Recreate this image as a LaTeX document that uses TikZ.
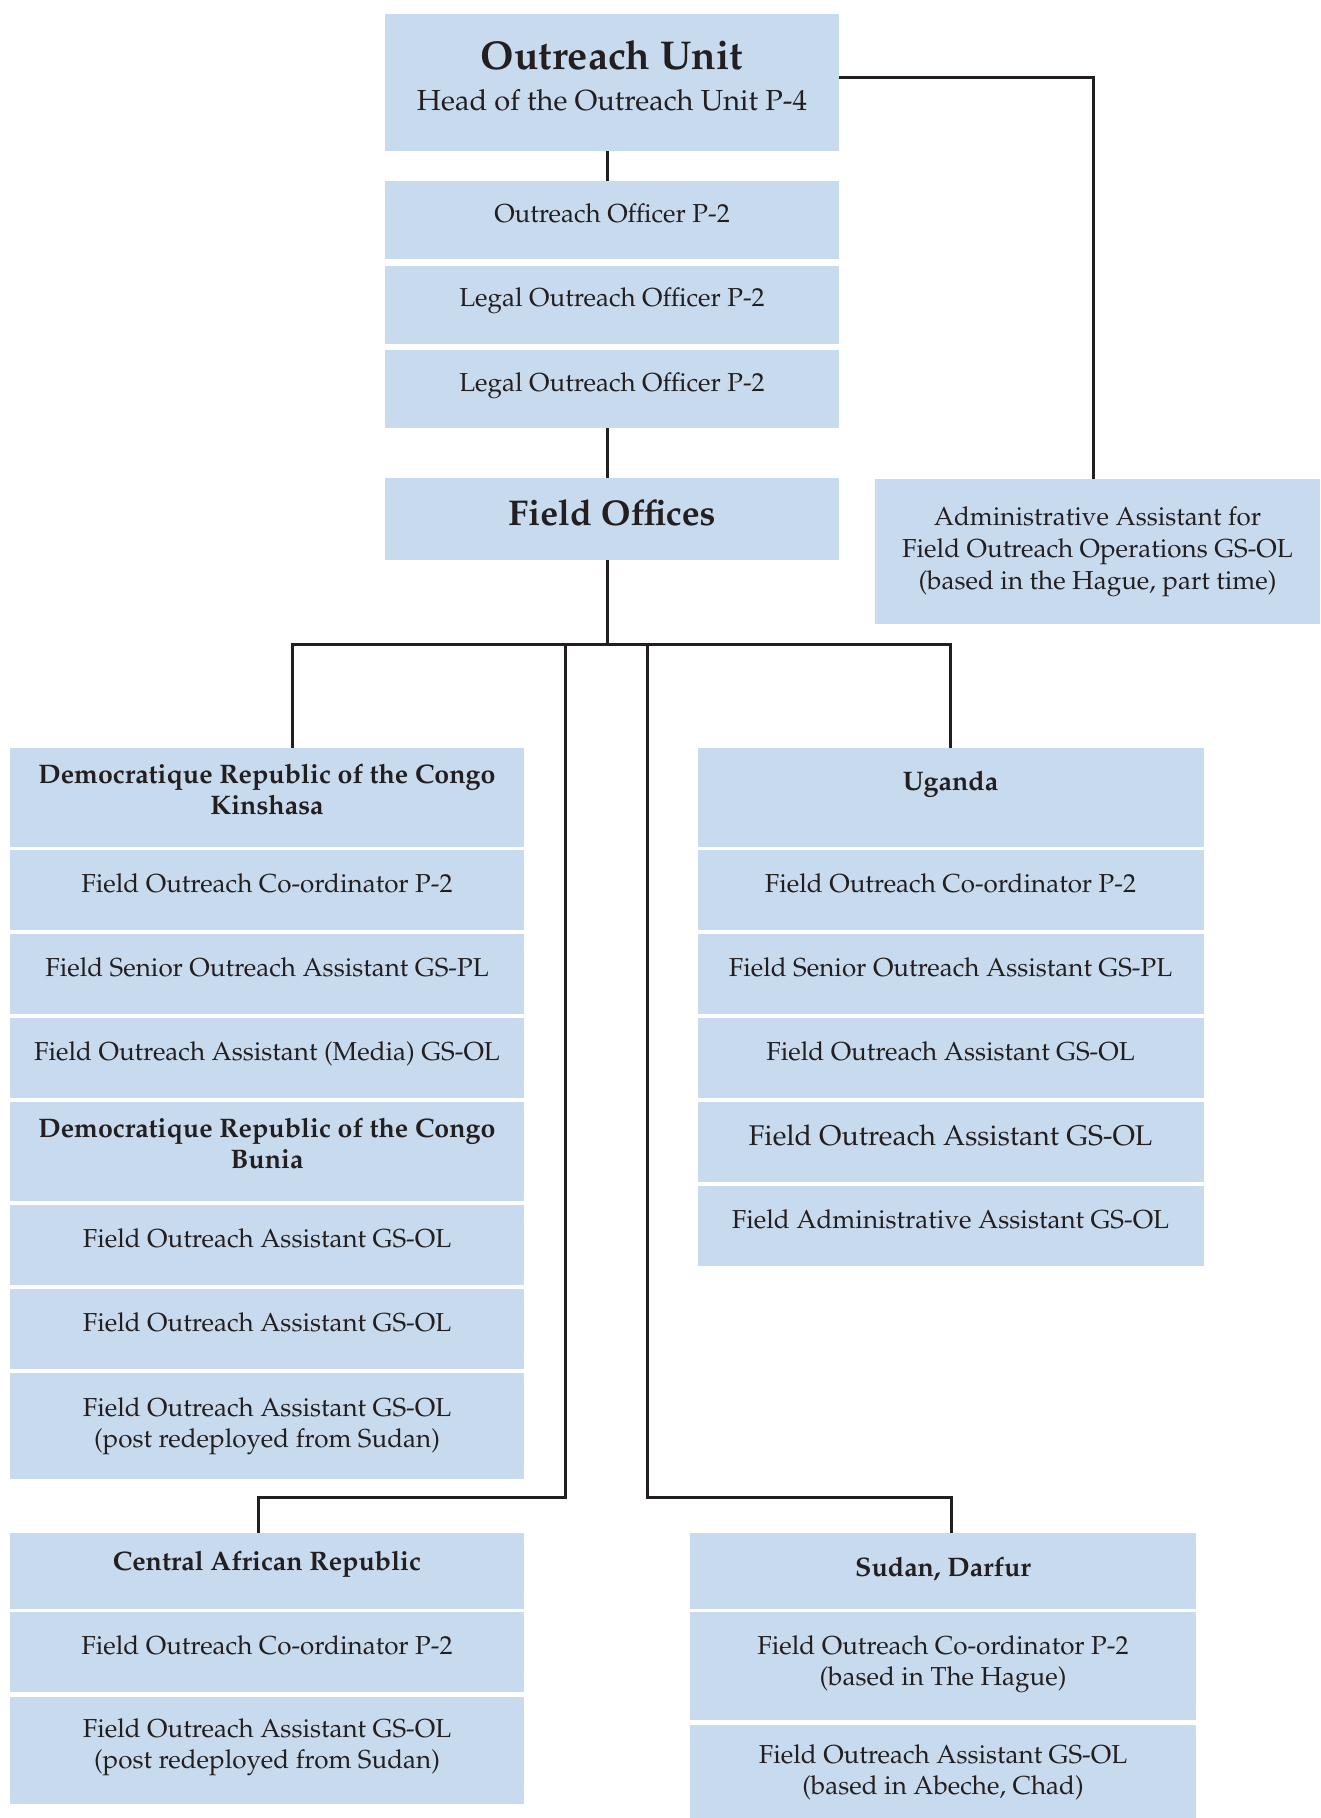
\documentclass[tikz,border=0pt]{standalone}
\usepackage[T1]{fontenc}
\usepackage{palatino}
\usepackage{xcolor}

\definecolor{boxblue}{RGB}{200,218,238}
\definecolor{ink}{RGB}{35,31,32}

\tikzset{
  post/.style={rectangle, fill=boxblue, inner sep=0pt, minimum width=514pt,
    minimum height=80pt, align=center, text=ink,
    font=\fontsize{26}{31}\selectfont, text depth=14pt},
  head/.style={post, font=\fontsize{26.8}{31}\selectfont\bfseries},
  hqbox/.style={minimum width=454pt},
  ugbox/.style={minimum width=506pt},
  sdbox/.style={minimum width=506pt},
  link/.style={draw=ink, line width=3pt},
}

\begin{document}
\begin{tikzpicture}[x=1pt, y=-1pt]
    \useasboundingbox (0,0) rectangle (1320,1818);

    % Outreach Unit in The Hague
    \node[post, hqbox, minimum height=137pt, font=\fontsize{29}{41}\selectfont] (unit) at (612,82.5)
        {{\fontsize{40.2}{41}\selectfont\bfseries Outreach Unit}\\Head of the Outreach Unit P-4};
    \node[post, hqbox, minimum height=78pt] (off) at (612,220) {Outreach Officer P-2};
    \node[post, hqbox, minimum height=78pt] (legal1) at (612,304.5) {Legal Outreach Officer P-2};
    \node[post, hqbox, minimum height=78pt] (legal2) at (612,389) {Legal Outreach Officer P-2};

    % Field Offices
    \node[post, hqbox, minimum height=82pt, font=\fontsize{35.8}{40}\selectfont\bfseries, text depth=12pt] (field) at (612,519) {Field Offices};

    % Administrative assistant (part time)
    \node[post, minimum width=445pt, minimum height=145pt, font=\fontsize{26}{32}\selectfont, text depth=6pt] (admin) at (1097.5,551.5)
        {Administrative Assistant for\\Field Outreach Operations GS-OL\\(based in the Hague, part time)};

    % DRC - Kinshasa
    \node[head, minimum height=99pt, text depth=16pt] (kin) at (267,797.5) {Democratique Republic of the Congo\\Kinshasa};
    \node[post] (kin1) at (267,890) {Field Outreach Co-ordinator P-2};
    \node[post] (kin2) at (267,974) {Field Senior Outreach Assistant GS-PL};
    \node[post] (kin3) at (267,1058) {Field Outreach Assistant (Media) GS-OL};

    % DRC - Bunia
    \node[head, minimum height=99pt, text depth=16pt] (bun) at (267,1151.5) {Democratique Republic of the Congo\\Bunia};
    \node[post] (bun1) at (267,1245) {Field Outreach Assistant GS-OL};
    \node[post] (bun2) at (267,1329) {Field Outreach Assistant GS-OL};
    \node[post, minimum height=106pt, text depth=7pt] (bun3) at (267,1426) {Field Outreach Assistant GS-OL\\(post redeployed from Sudan)};

    % Uganda
    \node[head, ugbox, minimum height=99pt, text depth=34pt] (uga) at (950.5,797.5) {Uganda};
    \node[post, ugbox] (uga1) at (950.5,890) {Field Outreach Co-ordinator P-2};
    \node[post, ugbox] (uga2) at (950.5,974) {Field Senior Outreach Assistant GS-PL};
    \node[post, ugbox] (uga3) at (950.5,1058) {Field Outreach Assistant GS-OL};
    \node[post, ugbox, font=\fontsize{28.5}{33}\selectfont] (uga4) at (950.5,1142) {Field Outreach Assistant GS-OL};
    \node[post, ugbox] (uga5) at (950.5,1226) {Field Administrative Assistant GS-OL};

    % Central African Republic
    \node[head, minimum height=76pt, text depth=21pt] (car) at (267,1571) {Central African Republic};
    \node[post] (car1) at (267,1652) {Field Outreach Co-ordinator P-2};
    \node[post, minimum height=107pt, text depth=13pt] (car2) at (267,1750.5) {Field Outreach Assistant GS-OL\\(post redeployed from Sudan)};

    % Sudan, Darfur
    \node[head, sdbox, minimum height=76pt, text depth=9pt] (sud) at (943,1571) {Sudan, Darfur};
    \node[post, sdbox, minimum height=108pt, text depth=11pt] (sud1) at (943,1666) {Field Outreach Co-ordinator P-2\\(based in The Hague)};
    \node[post, sdbox, minimum height=93pt, text depth=4pt] (sud2) at (943,1771.5) {Field Outreach Assistant GS-OL\\(based in Abeche, Chad)};

    % Lines in the head office
    \draw[link] ([xshift=-5pt]unit.south) -- ([xshift=-5pt]off.north);
    \draw[link] ([xshift=-5pt]legal2.south) -- ([xshift=-5pt]field.north);
    \draw[link] ([yshift=5.5pt]unit.east) -| ([xshift=-4.5pt]admin.north);

    % Tree to the field offices
    \coordinate (fork) at (607,644);
    \coordinate (kinj) at (292,644);
    \coordinate (carj) at (565,644);
    \coordinate (sudj) at (647,644);
    \coordinate (cardrop) at (258,1497);
    \coordinate (suddrop) at (951,1497);
    \draw[link] ([xshift=-5pt]field.south) -- (fork);
    \draw[link] (kinj |- kin.north) -- (kinj) -| (uga.north);
    \draw[link] (carj) |- (cardrop) -- (cardrop |- car.north);
    \draw[link] (sudj) |- (suddrop) -- (suddrop |- sud.north);
\end{tikzpicture}
\end{document}
